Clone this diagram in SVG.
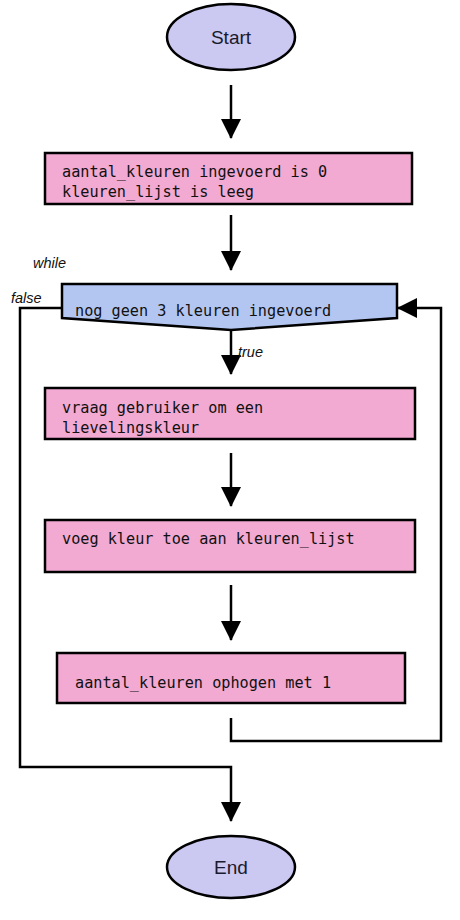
<svg xmlns="http://www.w3.org/2000/svg" width="460" height="920" viewBox="0 0 460 920">
<style>
.term{fill:#cbc8f2;stroke:#000;stroke-width:2.5}
.box{fill:#f2a9d2;stroke:#000;stroke-width:2.5}
.dec{fill:#b3c6f2;stroke:#000;stroke-width:2.5}
.lbl{font-family:"Liberation Sans",Arial,sans-serif;font-size:19px;fill:#1a1a2e}
.code{font-family:"DejaVu Sans Mono","Liberation Mono",monospace;font-size:15.2px;fill:#111}
.it{font-family:"Liberation Sans",Arial,sans-serif;font-size:14.5px;font-style:italic;fill:#111}
.ln{fill:none;stroke:#000;stroke-width:2.5}
</style>
<defs>
<marker id="ah" markerUnits="userSpaceOnUse" markerWidth="20" markerHeight="20" refX="19" refY="10" orient="auto">
<path d="M0,0 L20,10 L0,20 z" fill="#000"/>
</marker>
</defs>
<rect width="460" height="920" fill="#fff"/>
<g id="connectors">
<line class="ln" x1="231" y1="85" x2="231" y2="138" marker-end="url(#ah)"/>
<line class="ln" x1="231" y1="215" x2="231" y2="270" marker-end="url(#ah)"/>
<line class="ln" x1="231" y1="330" x2="231" y2="374" marker-end="url(#ah)"/>
<line class="ln" x1="231" y1="453" x2="231" y2="506" marker-end="url(#ah)"/>
<line class="ln" x1="231" y1="585" x2="231" y2="640" marker-end="url(#ah)"/>
<polyline class="ln" points="231,718 231,741 441,741 441,308 398,308" marker-end="url(#ah)"/>
<polyline class="ln" points="62,308 20,308 20,767 231,767 231,821" marker-end="url(#ah)"/>
<text class="it" x="33" y="268">while</text>
<text class="it" x="11" y="303">false</text>
<text class="it" x="238" y="357">true</text>
</g>
<g id="start">
<ellipse class="term" cx="231" cy="37" rx="64" ry="33"/>
<text class="lbl" x="231" y="44" text-anchor="middle">Start</text>
</g>
<g id="init">
<rect class="box" x="45" y="153" width="367" height="51"/>
<text class="code" x="62" y="177">aantal_kleuren ingevoerd is 0</text>
<text class="code" x="62" y="197">kleuren_lijst is leeg</text>
</g>
<g id="while">
<polygon class="dec" points="62,284 397,284 397,318 231,330 62,318"/>
<text class="code" x="75" y="316">nog geen 3 kleuren ingevoerd</text>
</g>
<g id="ask">
<rect class="box" x="45" y="388" width="370" height="51"/>
<text class="code" x="62" y="413">vraag gebruiker om een</text>
<text class="code" x="62" y="433">lievelingskleur</text>
</g>
<g id="add">
<rect class="box" x="45" y="520" width="370" height="52"/>
<text class="code" x="62" y="544">voeg kleur toe aan kleuren_lijst</text>
</g>
<g id="incr">
<rect class="box" x="57" y="653" width="348" height="50"/>
<text class="code" x="75" y="688">aantal_kleuren ophogen met 1</text>
</g>
<g id="end">
<ellipse class="term" cx="231" cy="867" rx="64" ry="31"/>
<text class="lbl" x="231" y="874" text-anchor="middle">End</text>
</g>
</svg>
